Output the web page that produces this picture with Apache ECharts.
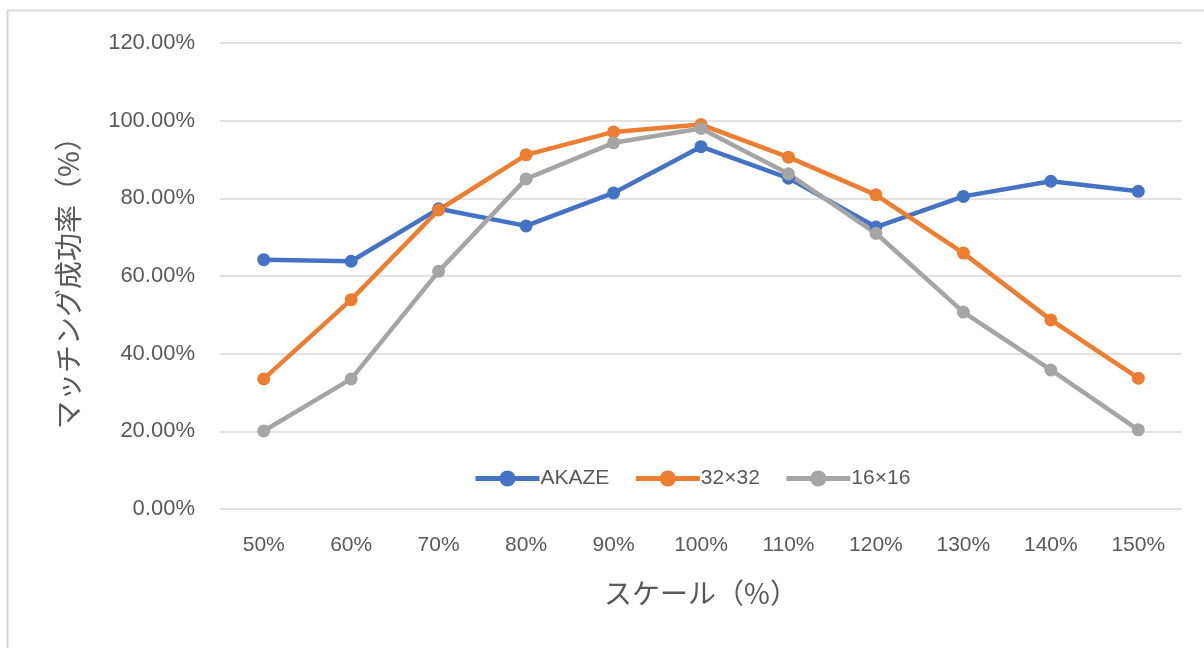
<!DOCTYPE html>
<html>
<head>
<meta charset="utf-8">
<script src="https://cdn.jsdelivr.net/npm/echarts@6/dist/echarts.min.js"></script>
<style>
  html, body { margin: 0; padding: 0; background: #fff; }
  #chart { width: 1204px; height: 648px; }
</style>
</head>
<body>
<div id="chart"></div>
<script>
// Scale categories (x axis)
const scales = ['50%', '60%', '70%', '80%', '90%', '100%', '110%', '120%', '130%', '140%', '150%'];

// Matching success rate per method (%)
const akaze = [64.2, 63.8, 77.3, 72.9, 81.4, 93.3, 85.2, 72.6, 80.5, 84.4, 81.8];
const size32 = [33.5, 53.9, 77.0, 91.2, 97.1, 99.0, 90.6, 80.9, 65.9, 48.7, 33.7];
const size16 = [20.1, 33.5, 61.2, 85.0, 94.3, 98.0, 86.3, 71.0, 50.7, 35.8, 20.4];

const seriesNames = ['AKAZE', '32×32', '16×16'];
const colors = ['#4472C4', '#ED7D31', '#A5A5A5'];

const labelFont = '"Liberation Sans", "Noto Sans CJK JP", sans-serif';
const cjkFont = '"Noto Sans CJK JP", sans-serif';

const chart = echarts.init(document.getElementById('chart'), null, { renderer: 'canvas' });

function lineSeries(name, data, color) {
  return {
    name: name,
    type: 'line',
    data: data,
    symbol: 'circle',
    symbolSize: 13,
    lineStyle: { width: 4.5, color: color },
    itemStyle: { color: color },
    emphasis: { disabled: true },
    animation: false
  };
}

chart.setOption({
  animation: false,
  color: colors,
  graphic: [{
    type: 'rect',
    shape: { x: 7.5, y: 10.5, width: 1210, height: 660 },
    style: { fill: 'none', stroke: '#D9D9D9', lineWidth: 2 },
    silent: true
  }],
  grid: { left: 220, right: 22, top: 43, bottom: 139, containLabel: false },
  legend: {
    data: seriesNames,
    left: 468,
    top: 463,
    itemWidth: 64,
    itemHeight: 20,
    itemGap: 24,
    lineStyle: { width: 5 },
    textStyle: { color: '#595959', fontSize: 21, fontFamily: labelFont, padding: [0, 0, 0, -4] }
  },
  xAxis: {
    type: 'category',
    data: scales,
    boundaryGap: true,
    axisLine: { show: false },
    axisTick: { show: false },
    axisLabel: { color: '#595959', fontSize: 21, fontFamily: labelFont, margin: 26 },
    name: 'スケール（%）',
    nameLocation: 'middle',
    nameGap: 70,
    nameTextStyle: { color: '#595959', fontSize: 28, fontFamily: cjkFont }
  },
  yAxis: {
    type: 'value',
    min: 0,
    max: 120,
    interval: 20,
    axisLine: { show: false },
    axisTick: { show: false },
    splitLine: { lineStyle: { color: '#D9D9D9', width: 1.5 } },
    axisLabel: {
      color: '#595959', fontSize: 22, fontFamily: labelFont, margin: 25,
      formatter: v => v.toFixed(2) + '%'
    },
    name: 'マッチング成功率（%）',
    nameLocation: 'middle',
    nameGap: 138,
    nameRotate: 90,
    nameTextStyle: { color: '#595959', fontSize: 28, fontFamily: cjkFont }
  },
  series: [
    lineSeries(seriesNames[0], akaze, colors[0]),
    lineSeries(seriesNames[1], size32, colors[1]),
    lineSeries(seriesNames[2], size16, colors[2])
  ]
});
</script>
</body>
</html>
